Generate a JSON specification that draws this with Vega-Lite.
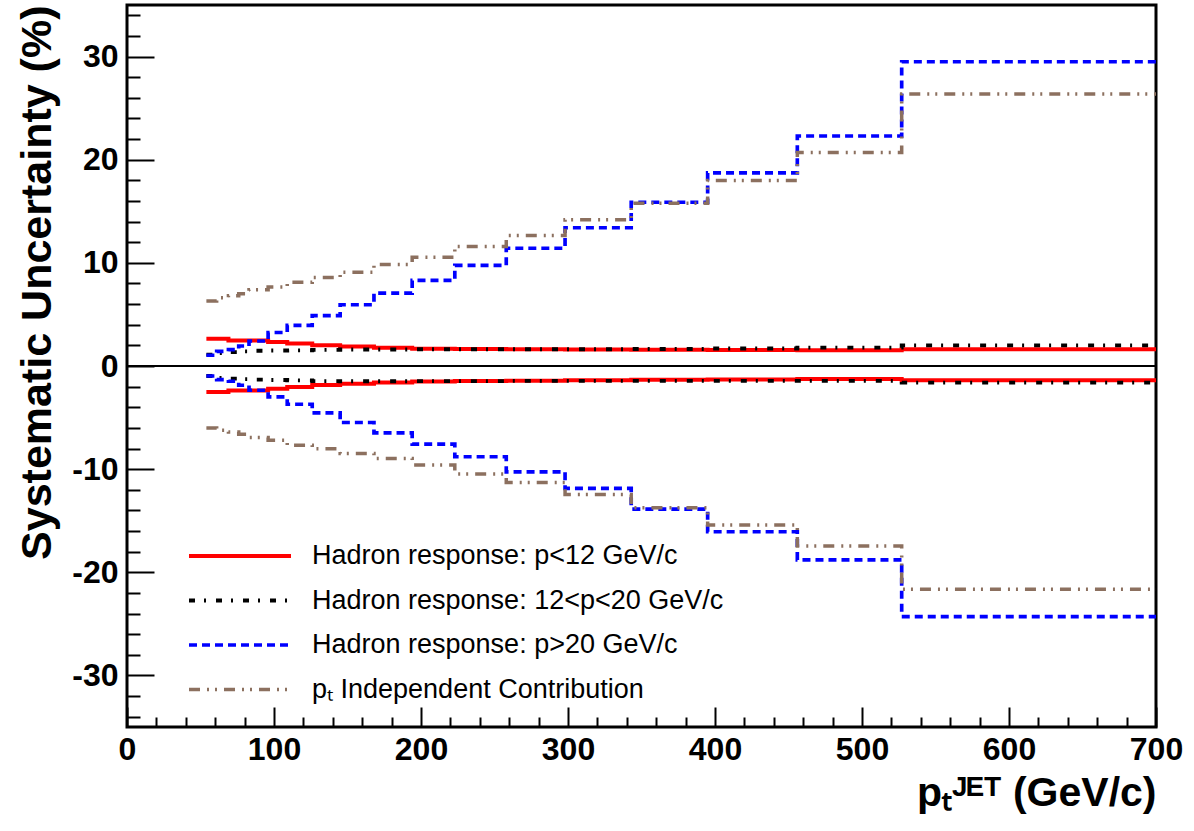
{
  "$schema": "https://vega.github.io/schema/vega-lite/v6.json",
  "width": 1029,
  "height": 722,
  "autosize": {"type": "none"},
  "padding": {"left": 127, "top": 5, "right": 38, "bottom": 104},
  "background": "white",
  "config": {"view": {"stroke": "black", "strokeWidth": 3}, "font": "Liberation Sans"},
  "layer": [
    {
      "data": {"values": [
        {"s":"Hadron response: p<12 GeV/c","d":"u","x":54,"y":2.65},{"s":"Hadron response: p<12 GeV/c","d":"u","x":61,"y":2.65},{"s":"Hadron response: p<12 GeV/c","d":"u","x":69,"y":2.48},{"s":"Hadron response: p<12 GeV/c","d":"u","x":76,"y":2.48},{"s":"Hadron response: p<12 GeV/c","d":"u","x":83,"y":2.48},{"s":"Hadron response: p<12 GeV/c","d":"u","x":96,"y":2.32},{"s":"Hadron response: p<12 GeV/c","d":"u","x":109,"y":2.17},{"s":"Hadron response: p<12 GeV/c","d":"u","x":126,"y":2.0},{"s":"Hadron response: p<12 GeV/c","d":"u","x":145,"y":1.9},{"s":"Hadron response: p<12 GeV/c","d":"u","x":168,"y":1.78},{"s":"Hadron response: p<12 GeV/c","d":"u","x":194,"y":1.68},{"s":"Hadron response: p<12 GeV/c","d":"u","x":223,"y":1.65},{"s":"Hadron response: p<12 GeV/c","d":"u","x":258,"y":1.62},{"s":"Hadron response: p<12 GeV/c","d":"u","x":298,"y":1.6},{"s":"Hadron response: p<12 GeV/c","d":"u","x":343,"y":1.58},{"s":"Hadron response: p<12 GeV/c","d":"u","x":395,"y":1.55},{"s":"Hadron response: p<12 GeV/c","d":"u","x":456,"y":1.52},{"s":"Hadron response: p<12 GeV/c","d":"u","x":527,"y":1.62},{"s":"Hadron response: p<12 GeV/c","d":"u","x":700,"y":1.62},
        {"s":"Hadron response: p<12 GeV/c","d":"n","x":54,"y":-2.52},{"s":"Hadron response: p<12 GeV/c","d":"n","x":61,"y":-2.52},{"s":"Hadron response: p<12 GeV/c","d":"n","x":69,"y":-2.38},{"s":"Hadron response: p<12 GeV/c","d":"n","x":76,"y":-2.38},{"s":"Hadron response: p<12 GeV/c","d":"n","x":83,"y":-2.38},{"s":"Hadron response: p<12 GeV/c","d":"n","x":96,"y":-2.2},{"s":"Hadron response: p<12 GeV/c","d":"n","x":109,"y":-2.03},{"s":"Hadron response: p<12 GeV/c","d":"n","x":126,"y":-1.85},{"s":"Hadron response: p<12 GeV/c","d":"n","x":145,"y":-1.71},{"s":"Hadron response: p<12 GeV/c","d":"n","x":168,"y":-1.61},{"s":"Hadron response: p<12 GeV/c","d":"n","x":194,"y":-1.5},{"s":"Hadron response: p<12 GeV/c","d":"n","x":223,"y":-1.45},{"s":"Hadron response: p<12 GeV/c","d":"n","x":258,"y":-1.42},{"s":"Hadron response: p<12 GeV/c","d":"n","x":298,"y":-1.38},{"s":"Hadron response: p<12 GeV/c","d":"n","x":343,"y":-1.33},{"s":"Hadron response: p<12 GeV/c","d":"n","x":395,"y":-1.3},{"s":"Hadron response: p<12 GeV/c","d":"n","x":456,"y":-1.27},{"s":"Hadron response: p<12 GeV/c","d":"n","x":527,"y":-1.38},{"s":"Hadron response: p<12 GeV/c","d":"n","x":700,"y":-1.38},
        {"s":"Hadron response: 12<p<20 GeV/c","d":"u","x":54,"y":1.1},{"s":"Hadron response: 12<p<20 GeV/c","d":"u","x":61,"y":1.25},{"s":"Hadron response: 12<p<20 GeV/c","d":"u","x":69,"y":1.35},{"s":"Hadron response: 12<p<20 GeV/c","d":"u","x":76,"y":1.42},{"s":"Hadron response: 12<p<20 GeV/c","d":"u","x":83,"y":1.48},{"s":"Hadron response: 12<p<20 GeV/c","d":"u","x":96,"y":1.5},{"s":"Hadron response: 12<p<20 GeV/c","d":"u","x":109,"y":1.52},{"s":"Hadron response: 12<p<20 GeV/c","d":"u","x":126,"y":1.57},{"s":"Hadron response: 12<p<20 GeV/c","d":"u","x":145,"y":1.6},{"s":"Hadron response: 12<p<20 GeV/c","d":"u","x":168,"y":1.6},{"s":"Hadron response: 12<p<20 GeV/c","d":"u","x":194,"y":1.62},{"s":"Hadron response: 12<p<20 GeV/c","d":"u","x":223,"y":1.62},{"s":"Hadron response: 12<p<20 GeV/c","d":"u","x":258,"y":1.62},{"s":"Hadron response: 12<p<20 GeV/c","d":"u","x":298,"y":1.62},{"s":"Hadron response: 12<p<20 GeV/c","d":"u","x":343,"y":1.65},{"s":"Hadron response: 12<p<20 GeV/c","d":"u","x":395,"y":1.7},{"s":"Hadron response: 12<p<20 GeV/c","d":"u","x":456,"y":1.78},{"s":"Hadron response: 12<p<20 GeV/c","d":"u","x":527,"y":2.0},{"s":"Hadron response: 12<p<20 GeV/c","d":"u","x":700,"y":2.0},
        {"s":"Hadron response: 12<p<20 GeV/c","d":"n","x":54,"y":-0.97},{"s":"Hadron response: 12<p<20 GeV/c","d":"n","x":61,"y":-1.15},{"s":"Hadron response: 12<p<20 GeV/c","d":"n","x":69,"y":-1.22},{"s":"Hadron response: 12<p<20 GeV/c","d":"n","x":76,"y":-1.28},{"s":"Hadron response: 12<p<20 GeV/c","d":"n","x":83,"y":-1.32},{"s":"Hadron response: 12<p<20 GeV/c","d":"n","x":96,"y":-1.36},{"s":"Hadron response: 12<p<20 GeV/c","d":"n","x":109,"y":-1.4},{"s":"Hadron response: 12<p<20 GeV/c","d":"n","x":126,"y":-1.46},{"s":"Hadron response: 12<p<20 GeV/c","d":"n","x":145,"y":-1.48},{"s":"Hadron response: 12<p<20 GeV/c","d":"n","x":168,"y":-1.48},{"s":"Hadron response: 12<p<20 GeV/c","d":"n","x":194,"y":-1.47},{"s":"Hadron response: 12<p<20 GeV/c","d":"n","x":223,"y":-1.46},{"s":"Hadron response: 12<p<20 GeV/c","d":"n","x":258,"y":-1.45},{"s":"Hadron response: 12<p<20 GeV/c","d":"n","x":298,"y":-1.45},{"s":"Hadron response: 12<p<20 GeV/c","d":"n","x":343,"y":-1.45},{"s":"Hadron response: 12<p<20 GeV/c","d":"n","x":395,"y":-1.45},{"s":"Hadron response: 12<p<20 GeV/c","d":"n","x":456,"y":-1.45},{"s":"Hadron response: 12<p<20 GeV/c","d":"n","x":527,"y":-1.61},{"s":"Hadron response: 12<p<20 GeV/c","d":"n","x":700,"y":-1.61},
        {"s":"Hadron response: p>20 GeV/c","d":"u","x":54,"y":1.04},{"s":"Hadron response: p>20 GeV/c","d":"u","x":61,"y":1.42},{"s":"Hadron response: p>20 GeV/c","d":"u","x":69,"y":1.58},{"s":"Hadron response: p>20 GeV/c","d":"u","x":76,"y":1.94},{"s":"Hadron response: p>20 GeV/c","d":"u","x":83,"y":2.42},{"s":"Hadron response: p>20 GeV/c","d":"u","x":96,"y":3.25},{"s":"Hadron response: p>20 GeV/c","d":"u","x":109,"y":3.94},{"s":"Hadron response: p>20 GeV/c","d":"u","x":126,"y":4.88},{"s":"Hadron response: p>20 GeV/c","d":"u","x":145,"y":5.94},{"s":"Hadron response: p>20 GeV/c","d":"u","x":168,"y":7.07},{"s":"Hadron response: p>20 GeV/c","d":"u","x":194,"y":8.3},{"s":"Hadron response: p>20 GeV/c","d":"u","x":223,"y":9.75},{"s":"Hadron response: p>20 GeV/c","d":"u","x":258,"y":11.42},{"s":"Hadron response: p>20 GeV/c","d":"u","x":298,"y":13.4},{"s":"Hadron response: p>20 GeV/c","d":"u","x":343,"y":15.88},{"s":"Hadron response: p>20 GeV/c","d":"u","x":395,"y":18.72},{"s":"Hadron response: p>20 GeV/c","d":"u","x":456,"y":22.3},{"s":"Hadron response: p>20 GeV/c","d":"u","x":527,"y":29.5},{"s":"Hadron response: p>20 GeV/c","d":"u","x":700,"y":29.5},
        {"s":"Hadron response: p>20 GeV/c","d":"n","x":54,"y":-0.97},{"s":"Hadron response: p>20 GeV/c","d":"n","x":61,"y":-1.32},{"s":"Hadron response: p>20 GeV/c","d":"n","x":69,"y":-1.48},{"s":"Hadron response: p>20 GeV/c","d":"n","x":76,"y":-1.87},{"s":"Hadron response: p>20 GeV/c","d":"n","x":83,"y":-2.35},{"s":"Hadron response: p>20 GeV/c","d":"n","x":96,"y":-3.0},{"s":"Hadron response: p>20 GeV/c","d":"n","x":109,"y":-3.71},{"s":"Hadron response: p>20 GeV/c","d":"n","x":126,"y":-4.55},{"s":"Hadron response: p>20 GeV/c","d":"n","x":145,"y":-5.48},{"s":"Hadron response: p>20 GeV/c","d":"n","x":168,"y":-6.48},{"s":"Hadron response: p>20 GeV/c","d":"n","x":194,"y":-7.58},{"s":"Hadron response: p>20 GeV/c","d":"n","x":223,"y":-8.8},{"s":"Hadron response: p>20 GeV/c","d":"n","x":258,"y":-10.26},{"s":"Hadron response: p>20 GeV/c","d":"n","x":298,"y":-11.87},{"s":"Hadron response: p>20 GeV/c","d":"n","x":343,"y":-13.87},{"s":"Hadron response: p>20 GeV/c","d":"n","x":395,"y":-16.07},{"s":"Hadron response: p>20 GeV/c","d":"n","x":456,"y":-18.8},{"s":"Hadron response: p>20 GeV/c","d":"n","x":527,"y":-24.3},{"s":"Hadron response: p>20 GeV/c","d":"n","x":700,"y":-24.3},
        {"s":"pₜ Independent Contribution","d":"u","x":54,"y":6.29},{"s":"pₜ Independent Contribution","d":"u","x":61,"y":6.62},{"s":"pₜ Independent Contribution","d":"u","x":69,"y":6.8},{"s":"pₜ Independent Contribution","d":"u","x":76,"y":7.0},{"s":"pₜ Independent Contribution","d":"u","x":83,"y":7.39},{"s":"pₜ Independent Contribution","d":"u","x":96,"y":7.65},{"s":"pₜ Independent Contribution","d":"u","x":109,"y":8.13},{"s":"pₜ Independent Contribution","d":"u","x":126,"y":8.58},{"s":"pₜ Independent Contribution","d":"u","x":145,"y":9.1},{"s":"pₜ Independent Contribution","d":"u","x":168,"y":9.84},{"s":"pₜ Independent Contribution","d":"u","x":194,"y":10.55},{"s":"pₜ Independent Contribution","d":"u","x":223,"y":11.59},{"s":"pₜ Independent Contribution","d":"u","x":258,"y":12.65},{"s":"pₜ Independent Contribution","d":"u","x":298,"y":14.17},{"s":"pₜ Independent Contribution","d":"u","x":343,"y":15.78},{"s":"pₜ Independent Contribution","d":"u","x":395,"y":17.98},{"s":"pₜ Independent Contribution","d":"u","x":456,"y":20.7},{"s":"pₜ Independent Contribution","d":"u","x":527,"y":26.37},{"s":"pₜ Independent Contribution","d":"u","x":700,"y":26.37},
        {"s":"pₜ Independent Contribution","d":"n","x":54,"y":-6.0},{"s":"pₜ Independent Contribution","d":"n","x":61,"y":-6.22},{"s":"pₜ Independent Contribution","d":"n","x":69,"y":-6.4},{"s":"pₜ Independent Contribution","d":"n","x":76,"y":-6.61},{"s":"pₜ Independent Contribution","d":"n","x":83,"y":-6.93},{"s":"pₜ Independent Contribution","d":"n","x":96,"y":-7.19},{"s":"pₜ Independent Contribution","d":"n","x":109,"y":-7.68},{"s":"pₜ Independent Contribution","d":"n","x":126,"y":-8.03},{"s":"pₜ Independent Contribution","d":"n","x":145,"y":-8.48},{"s":"pₜ Independent Contribution","d":"n","x":168,"y":-8.97},{"s":"pₜ Independent Contribution","d":"n","x":194,"y":-9.61},{"s":"pₜ Independent Contribution","d":"n","x":223,"y":-10.48},{"s":"pₜ Independent Contribution","d":"n","x":258,"y":-11.3},{"s":"pₜ Independent Contribution","d":"n","x":298,"y":-12.45},{"s":"pₜ Independent Contribution","d":"n","x":343,"y":-13.75},{"s":"pₜ Independent Contribution","d":"n","x":395,"y":-15.42},{"s":"pₜ Independent Contribution","d":"n","x":456,"y":-17.45},{"s":"pₜ Independent Contribution","d":"n","x":527,"y":-21.65},{"s":"pₜ Independent Contribution","d":"n","x":700,"y":-21.65}
      ]},
      "mark": {"type": "line", "interpolate": "step-after"},
      "encoding": {
        "x": {"field": "x", "type": "quantitative",
          "scale": {"domain": [0, 700], "nice": false, "zero": false},
          "axis": {"orient": "bottom", "values": [0,100,200,300,400,500,600,700], "tickSize": -20, "tickWidth": 2, "tickColor": "black", "domain": false, "grid": false,
            "labelFont": "Liberation Sans", "labelFontWeight": "bold", "labelFontSize": 32, "labelColor": "black", "labelPadding": 27, "labelFlush": false, "labelOverlap": false,
            "title": "pₜᴶᴱᵀ (GeV/c)", "titleFont": "Liberation Sans", "titleFontSize": 41, "titleFontWeight": "bold", "titleColor": "black", "titleAnchor": "end", "titleAlign": "right", "titlePadding": 8}},
        "y": {"field": "y", "type": "quantitative",
          "scale": {"domain": [-35, 35], "nice": false, "zero": false},
          "axis": {"orient": "left", "values": [-30,-20,-10,0,10,20,30], "tickSize": -27, "tickWidth": 2, "tickColor": "black", "domain": false, "grid": false,
            "labelExpr": "'' + datum.value",
            "labelFont": "Liberation Sans", "labelFontWeight": "bold", "labelFontSize": 32, "labelColor": "black", "labelPadding": 36, "labelOverlap": false, "labelFlush": false,
            "title": "Systematic Uncertainty (%)", "titleFont": "Liberation Sans", "titleFontSize": 43, "titleFontWeight": "bold", "titleColor": "black", "titleAnchor": "end", "titlePadding": 12}},
        "color": {"field": "s", "type": "nominal",
          "scale": {"domain": ["Hadron response: p<12 GeV/c", "Hadron response: 12<p<20 GeV/c", "Hadron response: p>20 GeV/c", "pₜ Independent Contribution"], "range": ["#ff0000", "#000000", "#0000ff", "#8c705f"]},
          "legend": {"orient": "none", "legendX": 94, "legendY": 532, "title": null, "symbolType": "M-3,0H3", "symbolSize": 1156, "symbolStrokeWidth": 3.5,
            "labelFont": "Liberation Sans", "labelFontSize": 27, "labelColor": "black", "labelOffset": 53, "rowPadding": 12.5, "padding": 0, "labelLimit": 0}},
        "strokeDash": {"field": "s", "type": "nominal",
          "scale": {"domain": ["Hadron response: p<12 GeV/c", "Hadron response: 12<p<20 GeV/c", "Hadron response: p>20 GeV/c", "pₜ Independent Contribution"], "range": [[1, 0], [6, 9, 2, 10], [8, 5], [11, 7, 2, 6, 2, 7]]}},
        "strokeWidth": {"field": "s", "type": "nominal",
          "scale": {"domain": ["Hadron response: p<12 GeV/c", "Hadron response: 12<p<20 GeV/c", "Hadron response: p>20 GeV/c", "pₜ Independent Contribution"], "range": [4, 3.5, 3.2, 3.2]}},
        "detail": {"field": "d", "type": "nominal"}
      }
    },
    {
      "data": {"values": [{}]},
      "mark": {"type": "rule", "color": "black", "strokeWidth": 2},
      "encoding": {
        "x": {"datum": 0, "type": "quantitative",
          "axis": {"orient": "bottom", "values": [20,40,60,80,120,140,160,180,220,240,260,280,320,340,360,380,420,440,460,480,520,540,560,580,620,640,660,680], "tickSize": -10, "tickWidth": 2, "tickColor": "black", "labels": false, "domain": false, "grid": false, "title": null}},
        "x2": {"datum": 700},
        "y": {"datum": 0, "type": "quantitative",
          "axis": {"orient": "left", "values": [-34,-32,-28,-26,-24,-22,-18,-16,-14,-12,-8,-6,-4,-2,2,4,6,8,12,14,16,18,22,24,26,28,32,34], "tickSize": -13, "tickWidth": 2, "tickColor": "black", "labels": false, "domain": false, "grid": false, "title": null}}
      }
    }
  ],
  "resolve": {"axis": {"x": "independent", "y": "independent"}}
}
